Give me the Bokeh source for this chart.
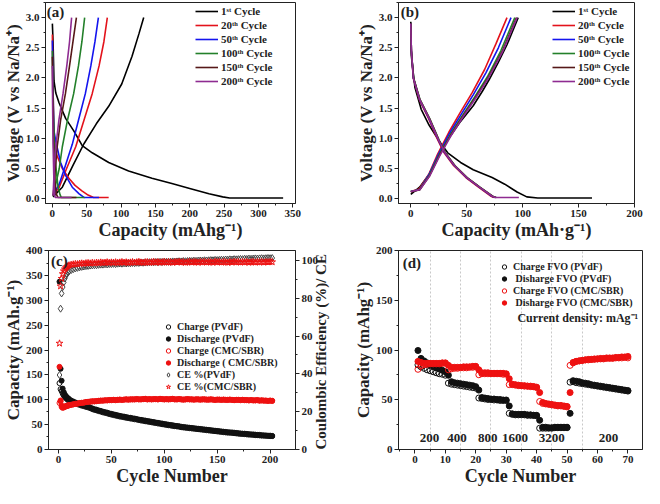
import math
from bokeh.plotting import figure
from bokeh.models import (Range1d, LinearAxis, Legend, LegendItem, Label,
                          SingleIntervalTicker, FixedTicker, PrintfTickFormatter)
from bokeh.layouts import column, row
from bokeh.embed import file_html
from bokeh.resources import INLINE
from bokeh.core.properties import value

FONT = "Liberation Serif"

# ---------------- Panel (a): PVdF charge/discharge profiles ----------------
a_labels = ["1ˢᵗ Cycle", "20ᵗʰ Cycle", "50ᵗʰ Cycle", "100ᵗʰ Cycle", "150ᵗʰ Cycle", "200ᵗʰ Cycle"]
colors = ["#000000", "#e3121b", "#1414ee", "#23802a", "#561818", "#8e2b91"]

a1_dis_cap = [0, 1, 2.4, 5, 9.7, 19.3, 31.4, 43.5, 58, 82, 111, 145, 174, 200, 228, 248, 258, 336]
a1_dis_v = [2.9, 2.6, 1.95, 1.75, 1.59, 1.33, 1.12, 0.88, 0.76, 0.6, 0.46, 0.34, 0.25, 0.17, 0.08, 0.03, 0.01, 0.01]
a1_chg_cap = [1, 5, 14.5, 30, 46, 64, 82, 101, 116, 126, 133]
a1_chg_v = [0.03, 0.08, 0.19, 0.55, 0.91, 1.24, 1.53, 1.9, 2.36, 2.73, 3.0]

a20_dis_cap = [0, 0.5, 1.5, 2.5, 5, 14.5, 24, 33, 43, 52, 60, 82]
a20_dis_v = [2.72, 2.2, 1.5, 1.0, 0.76, 0.5, 0.34, 0.22, 0.13, 0.06, 0.02, 0.02]
a20_chg_cap = [1, 4, 10, 20, 34, 46, 58, 68, 75, 80]
a20_chg_v = [0.05, 0.1, 0.19, 0.48, 0.86, 1.3, 1.74, 2.2, 2.6, 3.0]

a50_dis_cap = [0, 0.5, 1.5, 2.4, 5, 12, 19, 29, 39, 46, 68]
a50_dis_v = [2.62, 2.2, 1.5, 1.12, 0.95, 0.6, 0.39, 0.19, 0.08, 0.02, 0.02]
a50_chg_cap = [1, 4, 10, 19, 29, 38, 48, 56, 62, 67]
a50_chg_v = [0.05, 0.12, 0.24, 0.55, 0.9, 1.3, 1.74, 2.2, 2.6, 3.0]

a100_dis_cap = [0, 0.5, 1.5, 3, 5, 8, 11, 13, 47]
a100_dis_v = [2.45, 2.0, 1.4, 0.95, 0.55, 0.22, 0.07, 0.02, 0.02]
a100_chg_cap = [1, 3, 5, 10, 14.5, 22, 31, 38, 43, 47]
a100_chg_v = [0.05, 0.12, 0.24, 0.5, 0.86, 1.3, 1.74, 2.2, 2.6, 3.0]

a150_dis_cap = [0, 0.5, 1.5, 2.5, 4, 6, 8, 35]
a150_dis_v = [2.35, 1.8, 1.1, 0.6, 0.25, 0.07, 0.02, 0.02]
a150_chg_cap = [1, 2.5, 4, 7, 12, 19, 25, 30, 35]
a150_chg_v = [0.05, 0.2, 0.45, 0.86, 1.3, 1.74, 2.2, 2.6, 3.0]

a200_dis_cap = [0, 0.3, 1, 2, 3, 4, 28]
a200_dis_v = [2.2, 1.6, 0.9, 0.4, 0.1, 0.02, 0.02]
a200_chg_cap = [1, 2, 3, 5, 9.5, 15.5, 21, 25, 28]
a200_chg_v = [0.05, 0.3, 0.55, 0.86, 1.3, 1.74, 2.2, 2.6, 3.0]

# ---------------- Panel (b): CMC/SBR charge/discharge profiles ----------------
b1_dis_cap = [0, 0.5, 3.7, 9.3, 16.3, 24.8, 33, 44.5, 55.8, 72.7, 84, 95, 103.7, 113.5, 162]
b1_dis_v = [2.93, 2.36, 1.84, 1.48, 1.22, 0.97, 0.76, 0.6, 0.48, 0.35, 0.24, 0.11, 0.03, 0.01, 0.01]
b1_chg_cap = [0, 7.9, 16.3, 24.8, 33, 44.5, 55.8, 64, 70, 78, 86, 96]
b1_chg_v = [0.07, 0.19, 0.4, 0.71, 0.97, 1.28, 1.54, 1.78, 1.97, 2.25, 2.55, 3.0]

b_dis_v = [2.9, 2.45, 2.0, 1.64, 1.33, 0.97, 0.76, 0.55, 0.35, 0.19, 0.04, 0.02]
b20_dis_cap = [0, 0.5, 2.2, 7.6, 15.8, 24.2, 29.8, 38.2, 49.2, 60.5, 71.8, 74]
b50_dis_cap = [0, 0.5, 2.3, 7.9, 16.2, 24.7, 30.3, 38.8, 49.8, 61.2, 72.5, 75.5]
b100_dis_cap = [0, 0.5, 2.5, 8.3, 16.8, 25.3, 30.9, 39.4, 50.4, 61.8, 73.2, 76.5]
b150_dis_cap = [0, 0.5, 2.4, 8.1, 16.6, 25.1, 30.7, 39.2, 50.2, 61.6, 73.0, 76]
b200_dis_cap = [0, 0.5, 2.3, 8.0, 16.4, 24.9, 30.5, 39.0, 50.0, 61.4, 72.8, 75.5, 96.6]
b200_dis_v = [2.9, 2.45, 2.0, 1.64, 1.33, 0.97, 0.76, 0.55, 0.35, 0.19, 0.04, 0.02, 0.02]

b20_chg_cap = [0, 7.5, 16, 24, 34, 44, 55, 66, 76, 86]
b20_chg_v = [0.12, 0.16, 0.4, 0.74, 1.1, 1.42, 1.76, 2.14, 2.56, 3.0]
b50_chg_cap = [0, 7.8, 16.3, 24.8, 34.6, 44.5, 55.8, 67, 78.3, 89.6]
b50_chg_v = [0.12, 0.15, 0.4, 0.74, 1.08, 1.38, 1.72, 2.08, 2.5, 3.0]
b100_chg_cap = [0, 8, 16.6, 25.2, 35, 45.5, 57, 68.5, 80.5, 93]
b100_chg_v = [0.12, 0.15, 0.39, 0.72, 1.05, 1.36, 1.68, 2.02, 2.45, 3.0]
b150_chg_cap = [0, 8.1, 16.8, 25.4, 35.3, 46, 57.5, 69, 81.5, 94.5]
b150_chg_v = [0.11, 0.15, 0.38, 0.71, 1.04, 1.35, 1.67, 2.0, 2.43, 3.0]
b200_chg_cap = [0, 8.2, 17, 25.6, 35.5, 46.2, 57.8, 69.5, 82, 95]
b200_chg_v = [0.12, 0.15, 0.38, 0.7, 1.03, 1.34, 1.66, 2.0, 2.43, 3.0]

# ---------------- Panel (c): cycling ----------------
c_cycles = list(range(1, 11)) + list(range(12, 203, 2))
c_pvdf_chg = [133, 121, 117, 112, 108, 105, 103, 101, 99, 98,
              96, 94, 92.5, 90.5, 89, 87.5, 86.5, 85, 84, 82.5,
              80.5, 79, 78, 76.5, 75.5, 74, 73, 72, 70.5, 69.5,
              68.5, 67.5, 66.5, 65.5, 65, 64, 63, 62.5, 61.5, 61,
              60, 59.5, 58.5, 57.5, 57, 56, 55.5, 54.5, 54, 53,
              52.5, 51.5, 51, 50, 49.5, 48.5, 48, 47.5, 46.5, 46,
              45.5, 45, 44, 43.5, 43, 42.5, 42, 41.5, 41, 40.5,
              40, 39.5, 39, 38.5, 38, 37.5, 37, 36.5, 36, 35.5,
              35, 34.5, 34, 33.5, 33, 33, 32.5, 32, 31.5, 31,
              30.5, 30.5, 30, 29.5, 29, 29, 28.5, 28, 28, 27.5,
              27, 27, 26.5, 26.5, 26, 26]
c_pvdf_dis = [338, 162, 138, 122, 115, 110, 107, 104.5, 102.5, 101,
              98, 96, 94, 92, 90.5, 89, 88, 86.5, 85.5, 84,
              82, 80.5, 79.5, 78, 77, 75.5, 74.5, 73.5, 72, 71,
              70, 69, 68, 67, 66, 65.5, 64.5, 63.5, 63, 62,
              61.5, 60.5, 59.5, 59, 58, 57.5, 56.5, 56, 55, 54.5,
              53.5, 53, 52, 51.5, 50.5, 50, 49, 48.5, 48, 47,
              46.5, 46, 45, 44.5, 44, 43.5, 43, 42.5, 42, 41.5,
              41, 40.5, 40, 39.5, 39, 38.5, 38, 37.5, 37, 36.5,
              36, 35.5, 35, 34.5, 34, 33.5, 33.5, 33, 32.5, 32,
              31.5, 31, 31, 30.5, 30, 29.5, 29.5, 29, 28.5, 28.5,
              28, 27.5, 27.5, 27, 27, 26.5]
c_cmc_chg = [93, 96, 85, 83, 84, 85, 86, 86.5, 87.5, 88,
             89, 90, 91, 91.5, 92.5, 93, 93.5, 94.5, 95, 95.5,
             96, 96, 96.5, 97, 97.5, 97.5, 98, 98, 98.5, 98.5,
             99, 98.5, 99, 99.5, 99, 99.5, 100, 99.5, 100, 100,
             100, 100.5, 100, 100, 100.5, 101, 100, 100.5, 100, 100.5,
             100.5, 100, 101, 100.5, 100, 100.5, 100, 100.5, 101, 100,
             100, 100.5, 100, 99.5, 100, 100.5, 100, 100, 99.5, 100,
             100, 99.5, 100, 100, 99.5, 99.5, 100, 99.5, 99, 99.5,
             99.5, 99, 99.5, 99, 99, 99.5, 99, 98.5, 99, 99,
             98.5, 99, 98.5, 98.5, 98, 98.5, 98, 98, 98.5, 97.5,
             98, 97.5, 97.5, 97, 97.5, 97]
c_cmc_dis = [166, 98, 88, 84.5, 85, 86, 86.5, 87.5, 88, 89,
             89.5, 90.5, 91.5, 92, 93, 93.5, 94, 95, 95.5, 96,
             96.5, 96.5, 97, 97.5, 98, 98, 98.5, 98.5, 99, 99,
             99.5, 99, 99.5, 100, 99.5, 100, 100.5, 100, 100.5, 100.5,
             100.5, 101, 100.5, 100.5, 101, 101.5, 100.5, 101, 100.5, 101,
             101, 100.5, 101.5, 101, 100.5, 101, 100.5, 101, 101.5, 100.5,
             100.5, 101, 100.5, 100, 100.5, 101, 100.5, 100.5, 100, 100.5,
             100.5, 100, 100.5, 100.5, 100, 100, 100.5, 100, 99.5, 100,
             100, 99.5, 100, 99.5, 99.5, 100, 99.5, 99, 99.5, 99.5,
             99, 99.5, 99, 99, 98.5, 99, 98.5, 98.5, 99, 98,
             98.5, 98, 98, 97.5, 98, 97.5]
c_ce_pvdf = [39.3, 74.5, 82.6, 86, 88.5, 90.5, 92, 93, 93.8, 94.4,
             95, 95.5, 95.9, 96.2, 96.5, 96.7, 96.9, 97.1, 97.2, 97.4,
             97.5, 97.6, 97.6, 97.8, 97.9, 97.9, 98.1, 98, 98.2, 98.2,
             98.3, 98.2, 98.4, 98.5, 98.4, 98.6, 98.5, 98.7, 98.6, 98.8,
             98.7, 98.9, 98.8, 99, 98.9, 99.1, 99, 99.2, 99.1, 99.2,
             99.3, 99.2, 99.4, 99.3, 99.5, 99.4, 99.5, 99.4, 99.6, 99.5,
             99.6, 99.7, 99.6, 99.8, 99.7, 99.8, 99.9, 99.8, 100, 99.9,
             100, 100.1, 100, 100.2, 100.1, 100.2, 100.3, 100.2, 100.4, 100.3,
             100.4, 100.5, 100.4, 100.6, 100.5, 100.7, 100.6, 100.8, 100.7, 100.8,
             100.9, 100.8, 101, 100.9, 101.1, 101, 101.1, 101.2, 101.1, 101.2,
             101.3, 101.2, 101.3, 101.4, 101.3, 101.4]
c_ce_cmc = [56.1, 86.5, 90.5, 93, 94.5, 95.5, 96.2, 96.8, 97.2, 97.6,
            97.9, 98.1, 98.3, 98.2, 98.5, 98.6, 98.4, 98.7, 98.8, 98.6,
            98.9, 98.7, 99, 98.8, 99.1, 98.9, 99, 99.2, 98.9, 99.1,
            99, 99.2, 98.9, 99.1, 99.3, 99, 99.2, 98.9, 99.1, 99.3,
            99, 99.2, 99.4, 99.1, 98.9, 99.2, 99.3, 99, 99.2, 99.4,
            99.1, 99.3, 99, 99.2, 99.4, 99.1, 99.3, 99.2, 99, 99.3,
            99.2, 99.4, 99.1, 99.3, 99, 99.2, 99.4, 99.1, 99.3, 99.2,
            99, 99.3, 99.2, 99.4, 99.1, 99.3, 99.2, 99, 99.4, 99.2,
            99.3, 99.1, 99.4, 99.2, 99, 99.3, 99.1, 99.4, 99.2, 99.3,
            99.1, 99.4, 99.2, 99.3, 99, 99.2, 99.4, 99.1, 99.3, 99.2,
            99.4, 99.1, 99.3, 99.2, 99.4, 99.3]
c_labels = ["Charge (PVdF)", "Discharge (PVdF)", "Charge (CMC/SBR)",
            "Discharge ( CMC/SBR)", "CE %(PVdF)", "CE %(CMC/SBR)"]

# ---------------- Panel (d): rate capability ----------------
d_cycles = list(range(1, 71))
d_pvdf_dis = [99.5, 91.5, 89, 87, 85, 83.5, 82, 81, 79.5, 78,
              74.5, 68, 67, 66.5, 66, 65.5, 65, 64.5, 64, 63,
              59.5, 52, 51.5, 51, 50.5, 50.5, 50, 50, 49.5, 49.5,
              43.5, 35.5, 35, 35, 35, 35, 34.5, 34.5, 34, 34,
              29, 22, 22, 21.5, 21.5, 22, 22, 22, 22, 22,
              36, 69, 68.5, 68, 67, 66.5, 66, 65, 64.5, 64,
              63.5, 63, 62.5, 62, 61.5, 61, 60.5, 60, 59.5, 59]
d_pvdf_chg = [85, 83, 81.5, 80, 79, 78, 77, 76, 75.5, 74.5,
              66.5, 65.5, 65, 64.5, 64, 63.5, 63, 62.5, 62, 61.5,
              51.5, 51, 50.5, 50, 50, 49.5, 49.5, 49, 49, 49,
              36, 35, 34.5, 34.5, 34.5, 34.5, 34, 34, 34, 33.5,
              21, 21, 21, 21, 21, 21.5, 21.5, 21.5, 21.5, 21.5,
              67.5, 68, 67, 66.5, 66, 65.5, 65, 64.5, 64, 63.5,
              63, 62.5, 62, 61.5, 61, 60.5, 60, 59.5, 59, 58.5]
d_cmc_chg = [80.5, 84, 85, 85.5, 86, 86, 86, 86, 86.5, 86.5,
             80, 81, 81.5, 81.5, 82, 82, 82, 82.5, 82.5, 83,
             75, 76, 76, 76, 76, 76, 76, 76, 75.5, 75.5,
             65, 65, 64.5, 64, 64, 63.5, 63.5, 63, 63, 62,
             48, 46, 45.5, 45, 44.5, 44, 43.5, 43.5, 43, 42.5,
             84.5, 87.5, 88.5, 89, 89.5, 90, 90, 90.5, 90.5, 91,
             91, 91, 91.5, 91.5, 91.5, 92, 92, 92, 92.5, 92]
d_cmc_dis = [88.5, 87.5, 86.5, 86.5, 86.5, 86.5, 86.5, 86.5, 87, 87,
             84.5, 82.5, 82.5, 82.5, 82.5, 83, 83, 83, 83.5, 83.5,
             80, 77, 77, 77, 76.5, 76.5, 76.5, 76.5, 76.5, 76,
             71, 65.5, 65, 64.5, 64, 64, 63.5, 63.5, 63, 62.5,
             57, 47, 46, 45.5, 45, 44.5, 44, 44, 43.5, 43,
             57, 87, 88.5, 89, 89.5, 90, 90.5, 90.5, 91, 91,
             91.5, 91.5, 92, 92, 92, 92.5, 92.5, 93, 93, 93.5]
d_labels = ["Charge FVO (PVdF)", " Disharge FVO (PVdF)", "Charge FVO (CMC/SBR)", " Disharge FVO (CMC/SBR)"]
d_current_text = ["200", "400", "800", "1600", "3200", "200"]
d_current_x = [4.8, 13.8, 23.9, 32.9, 45, 63.6]
d_current_y = [11, 11, 11, 11, 11, 11]
d_boundaries = [5, 15, 25, 35, 45, 55]


def style_axis(ax, title_size="18px"):
    ax.axis_label_text_font = FONT
    ax.axis_label_text_font_style = "bold"
    ax.axis_label_text_font_size = title_size
    ax.axis_label_text_color = "#222222"
    ax.major_label_text_font = FONT
    ax.major_label_text_font_style = "bold"
    ax.major_label_text_font_size = "11px"
    ax.major_label_text_color = "#222222"
    ax.major_tick_in = 0
    ax.major_tick_out = 4
    ax.minor_tick_in = 0
    ax.minor_tick_out = 2
    ax.major_label_standoff = 2
    ax.axis_label_standoff = 0
    ax.axis_line_color = "#222222"
    ax.major_tick_line_color = "#222222"
    ax.minor_tick_line_color = "#222222"


def style(p, xlabel, ylabel):
    p.outline_line_color = "#222222"
    p.outline_line_width = 1
    p.outline_line_alpha = 1
    p.xgrid.visible = False
    p.ygrid.visible = False
    p.xaxis.axis_label = xlabel
    p.yaxis.axis_label = ylabel
    for ax in p.xaxis:
        style_axis(ax, "18px")
    for ax in p.yaxis:
        style_axis(ax, "17px")


def make_legend(items, loc, gh=12, gw=23, spacing=2, size="11px"):
    lg = Legend(items=items, location=loc)
    lg.border_line_color = None
    lg.background_fill_alpha = 0
    lg.padding = 0
    lg.margin = 0
    lg.spacing = spacing
    lg.glyph_height = gh
    lg.glyph_width = gw
    lg.label_height = gh
    lg.label_standoff = 3
    lg.label_text_font = FONT
    lg.label_text_font_style = "bold"
    lg.label_text_font_size = size
    lg.label_text_color = "#222222"
    return lg


def panel_letter(p, text, x, y):
    p.add_layout(Label(x=x, y=y, text=text, text_font=FONT, text_font_style="bold",
                       text_font_size="15px", text_baseline="top", text_color="#222222"))


# ---------- (a) ----------
pa = figure(width=322, height=242, output_backend="svg", toolbar_location=None,
            x_range=Range1d(-10, 354), y_range=Range1d(-0.08, 3.25),
            min_border_left=43, min_border_right=27, min_border_top=2, min_border_bottom=30)
style(pa, "Capacity (mAhg⁻¹)", "Voltage (V vs Na/Na⁺)")
pa.xaxis.ticker = SingleIntervalTicker(interval=50, num_minor_ticks=2)
pa.yaxis.ticker = SingleIntervalTicker(interval=0.5, num_minor_ticks=2)
pa.yaxis.formatter = PrintfTickFormatter(format="%.1f")
a_sets = [(a1_dis_cap, a1_dis_v, a1_chg_cap, a1_chg_v),
          (a20_dis_cap, a20_dis_v, a20_chg_cap, a20_chg_v),
          (a50_dis_cap, a50_dis_v, a50_chg_cap, a50_chg_v),
          (a100_dis_cap, a100_dis_v, a100_chg_cap, a100_chg_v),
          (a150_dis_cap, a150_dis_v, a150_chg_cap, a150_chg_v),
          (a200_dis_cap, a200_dis_v, a200_chg_cap, a200_chg_v)]
a_items = []
for (dc, dv, cc, cv), col, lab in zip(a_sets, colors, a_labels):
    r = pa.line(dc, dv, line_color=col, line_width=1.6)
    pa.line(cc, cv, line_color=col, line_width=1.6)
    a_items.append(LegendItem(label=lab, renderers=[r]))
pa.add_layout(make_legend(a_items, (150, 116)))
panel_letter(pa, "(a)", -8, 3.23)

# ---------- (b) ----------
pb = figure(width=322, height=242, output_backend="svg", toolbar_location=None,
            x_range=Range1d(-11, 200), y_range=Range1d(-0.08, 3.25),
            min_border_left=76, min_border_right=10, min_border_top=2, min_border_bottom=30)
style(pb, "Capacity (mAh·g⁻¹)", "Voltage (V vs Na/Na⁺)")
pb.xaxis.ticker = SingleIntervalTicker(interval=50, num_minor_ticks=2)
pb.yaxis.ticker = SingleIntervalTicker(interval=0.5, num_minor_ticks=2)
pb.yaxis.formatter = PrintfTickFormatter(format="%.1f")
b_sets = [(b1_dis_cap, b1_dis_v, b1_chg_cap, b1_chg_v),
          (b20_dis_cap, b_dis_v, b20_chg_cap, b20_chg_v),
          (b50_dis_cap, b_dis_v, b50_chg_cap, b50_chg_v),
          (b100_dis_cap, b_dis_v, b100_chg_cap, b100_chg_v),
          (b150_dis_cap, b_dis_v, b150_chg_cap, b150_chg_v),
          (b200_dis_cap, b200_dis_v, b200_chg_cap, b200_chg_v)]
b_items = []
for (dc, dv, cc, cv), col, lab in zip(b_sets, colors, a_labels):
    r = pb.line(dc, dv, line_color=col, line_width=1.6)
    pb.line(cc, cv, line_color=col, line_width=1.6)
    b_items.append(LegendItem(label=lab, renderers=[r]))
pb.add_layout(make_legend(b_items, (154, 116)))
panel_letter(pb, "(b)", -9, 3.23)

# ---------- (c) ----------
pc = figure(width=340, height=246, output_backend="svg", toolbar_location=None,
            x_range=Range1d(-9.4, 224), y_range=Range1d(-1, 401),
            min_border_left=43, min_border_right=45, min_border_top=8, min_border_bottom=20)
pc.extra_y_ranges = {"ce": Range1d(-0.25, 105.4)}
style(pc, "Cycle Number", "Capacity (mAh.g⁻¹)")
pc.xaxis.ticker = SingleIntervalTicker(interval=50, num_minor_ticks=2)
pc.yaxis.ticker = SingleIntervalTicker(interval=50, num_minor_ticks=2)
ax_r = LinearAxis(y_range_name="ce", axis_label="Coulombic Efficiency (%)/ CE",
                  ticker=SingleIntervalTicker(interval=20, num_minor_ticks=2))
style_axis(ax_r, "15px")
axis_props = LinearAxis.properties()
if "axis_label_orientation" in axis_props:
    ax_r.axis_label_orientation = math.pi / 2
if "axis_label_align" in axis_props:
    ax_r.axis_label_align = "start"
pc.add_layout(ax_r, "right")
r1 = pc.scatter(c_cycles, c_pvdf_chg, marker="circle", size=5, fill_color=None, line_color="#111111", line_width=1)
r2 = pc.scatter(c_cycles, c_pvdf_dis, marker="circle", size=5, fill_color="#111111", line_color="#111111", line_width=1)
r5 = pc.scatter(c_cycles, c_ce_pvdf, marker="diamond", size=7, fill_color=None, line_color="#444444",
                line_width=1, y_range_name="ce")
r3 = pc.scatter(c_cycles, c_cmc_chg, marker="circle", size=5, fill_color=None, line_color="#ee1111", line_width=1)
r4 = pc.scatter(c_cycles, c_cmc_dis, marker="circle", size=5, fill_color="#ee1111", line_color="#ee1111", line_width=1)
r6 = pc.scatter(c_cycles, c_ce_cmc, marker="star", size=7, fill_color=None, line_color="#ee1111",
                line_width=1, y_range_name="ce")
c_items = [LegendItem(label=l, renderers=[r]) for l, r in zip(c_labels, [r1, r2, r3, r4, r5, r6])]
pc.add_layout(make_legend(c_items, (114, 57), gh=11, gw=12, spacing=1, size="10px"))
panel_letter(pc, "(c)", -7, 396)

# ---------- (d) ----------
pd = figure(width=304, height=246, output_backend="svg", toolbar_location=None,
            x_range=Range1d(-5.4, 74.8), y_range=Range1d(-0.5, 200.5),
            min_border_left=58, min_border_right=2, min_border_top=8, min_border_bottom=20)
style(pd, "Cycle Number", "Capacity (mAhg⁻¹)")
pd.xaxis.ticker = SingleIntervalTicker(interval=10, num_minor_ticks=2)
pd.yaxis.ticker = SingleIntervalTicker(interval=50, num_minor_ticks=2)
pd.xgrid.visible = True
pd.xgrid.ticker = FixedTicker(ticks=d_boundaries)
pd.xgrid.grid_line_color = "#c8c8c8"
pd.xgrid.grid_line_dash = "2 2"
pd.xgrid.grid_line_width = 1
q1 = pd.scatter(d_cycles, d_pvdf_chg, marker="circle", size=6, fill_color=None, line_color="#111111", line_width=1)
q2 = pd.scatter(d_cycles, d_pvdf_dis, marker="circle", size=6, fill_color="#111111", line_color="#111111", line_width=1)
q3 = pd.scatter(d_cycles, d_cmc_chg, marker="circle", size=6, fill_color=None, line_color="#ee1111", line_width=1)
q4 = pd.scatter(d_cycles, d_cmc_dis, marker="circle", size=6, fill_color="#ee1111", line_color="#ee1111", line_width=1)
d_items = [LegendItem(label=l, renderers=[r]) for l, r in zip(d_labels, [q1, q2, q3, q4])]
pd.add_layout(make_legend(d_items, (100, 141), gh=11, gw=12, spacing=1, size="10px"))
pd.text(d_current_x, d_current_y, text=d_current_text, text_font=value(FONT), text_font_style="bold",
        text_font_size="13px", text_align="center", text_baseline="middle", text_color="#222222")
pd.add_layout(Label(x=33.7, y=132, text="Current density: mAg⁻¹", text_font=FONT,
                    text_font_style="bold", text_font_size="12px", text_baseline="middle",
                    text_color="#222222"))
panel_letter(pd, "(d)", -4, 196)

layout = column(row(pa, pb), row(pc, pd))
open("out.html", "w").write(file_html(layout, INLINE))
